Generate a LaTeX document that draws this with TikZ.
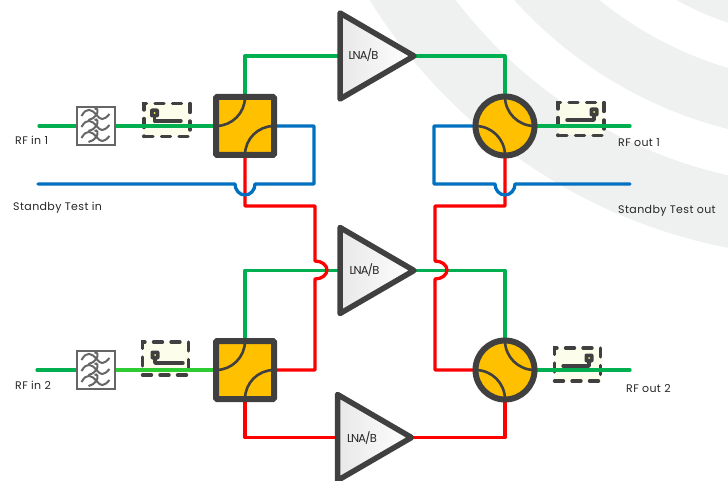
\documentclass[tikz,border=0pt]{standalone}
\usepackage{fontspec}
\setmainfont{Poppins}
\newfontfamily\portfont[LetterSpace=3.5]{Poppins}
\newfontfamily\ampfont[LetterSpace=-8]{Poppins}
\usetikzlibrary{shapes.geometric, calc}
\definecolor{bandgray}{HTML}{EFF1F1}
\definecolor{darkline}{HTML}{404040}
\definecolor{hybgold}{HTML}{FFC000}
\definecolor{wiregreen}{HTML}{00B050}
\definecolor{wirelime}{HTML}{2ECC33}
\definecolor{wireblue}{HTML}{0070C0}
\definecolor{wirered}{HTML}{FF0000}
\definecolor{isofill}{HTML}{FDFDE8}
\pgfdeclarelayer{bandlayer}
\pgfdeclarelayer{wirelayer}
\pgfsetlayers{bandlayer,wirelayer,main}

\begin{document}
\begin{tikzpicture}[
		x=1pt, y=-1pt,
		wire/.style={line width=3.3pt, line join=round, line cap=round},
		hybrid/.style={draw=darkline, line width=6pt, fill=hybgold, rounded corners=1pt, minimum size=58pt, inner sep=0pt, outer sep=0pt},
		combiner/.style={draw=darkline, line width=6pt, fill=hybgold, circle, minimum size=59pt, inner sep=0pt, outer sep=0pt},
		innerarc/.style={draw=darkline, line width=2.6pt},
		amp/.style={isosceles triangle, isosceles triangle stretches, draw=darkline, line width=5.5pt, line join=round, left color=black!9, right color=white, minimum width=86pt, minimum height=74pt, inner sep=0pt, outer sep=0pt},
		filterbox/.style={draw=black!60, line width=2pt, fill=white, minimum size=38pt, inner sep=0pt, outer sep=0pt},
		iso/.style={draw=darkline, line width=3.4pt, dash pattern=on 9pt off 8.5pt, line cap=round, fill=isofill, fill opacity=0.85, minimum width=46pt, minimum height=33pt, inner sep=0pt, outer sep=0pt},
		isotrace/.style={draw=darkline, line width=3.4pt, line cap=round, line join=round},
		wave/.style={draw=black!60, line width=2pt},
		portlabel/.style={font=\portfont\fontsize{11}{13}\selectfont, text=black!85, inner sep=0pt, anchor=west},
		amplabel/.style={font=\ampfont\fontsize{11.5}{13}\selectfont, text=black!85, inner sep=0pt}
		]
		\useasboundingbox (0,0) rectangle (728,481);
		
		% Background bands
		\begin{pgfonlayer}{bandlayer}
			\begin{scope}
				\clip (0,0) rectangle (728,481);
				\fill[bandgray, even odd rule] (833,-287) circle[radius=545] (833,-287) circle[radius=474];
				\fill[bandgray, even odd rule] (833,-287) circle[radius=429] (833,-287) circle[radius=370];
				\fill[bandgray] (833,-287) circle[radius=327];
			\end{scope}
			
			% Isolators
			\foreach \isoname/\isox/\isoy in {isoa/167/120, isob/165.5/358.5, isoc/581/119, isod/577.5/364.5}
			\node[iso] (\isoname) at (\isox,\isoy) {};
			\draw[isotrace] (154.5,113) -- (154.5,121) -- (181,121);
			\draw[isotrace] (155,355) -- (155,363) -- (183,363);
			\draw[isotrace] (594,112) -- (594,120) -- (567,120);
			\draw[isotrace] (589,358) -- (589,366) -- (563,366);
			\foreach \dotx/\doty in {154.5/113, 155/355, 594/112, 589/358} {
				\fill[darkline, rounded corners=2pt] (\dotx-4.5,\doty-4.5) rectangle (\dotx+4.5,\doty+4.5);
				\fill[yellow!60!white] (\dotx,\doty) circle[radius=1pt];
			}
		\end{pgfonlayer}
		
		% Free ends
		\coordinate (rfin1) at (39,126);
		\coordinate (rfin2) at (37,370);
		\coordinate (testin) at (38,184);
		\coordinate (rfout1) at (630,126);
		\coordinate (rfout2) at (630,370);
		\coordinate (testout) at (630,184);
		
		% Filters
		\node[filterbox] (filt1) at (95.5,126) {};
		\node[filterbox] (filt2) at (95.5,370) {};
		
		% Hybrids and combiners
		\node[hybrid] (hyb1) at (245,126) {};
		\node[hybrid] (hyb2) at (245,370) {};
		\node[combiner] (comb1) at (505,126) {};
		\node[combiner] (comb2) at (505,370) {};
		
		% Amplifiers
		\node[amp, anchor=apex] (amp1) at (414,56) {};
		\node[amp, anchor=apex] (amp2) at (414,270.5) {};
		\node[amp, anchor=apex] (amp3) at (411.5,437.5) {};
		\node[amplabel] at (363.5,55) {LNA/B};
		\node[amplabel] at (364.5,270) {LNA/B};
		\node[amplabel] at (362,438) {LNA/B};
		
		\begin{pgfonlayer}{wirelayer}
			% Green paths
			\draw[wire, wiregreen] (rfin1) -- (filt1.west);
			\draw[wire, wiregreen] (filt1.east) -- (hyb1.west);
			\draw[wire, wiregreen] (hyb1.north) |- (amp1.lower side);
			\draw[wire, wiregreen] (amp1.apex) -| (comb1.north);
			\draw[wire, wiregreen] (comb1.east) -- (rfout1);
			\draw[wire, wiregreen] (rfin2) -- (filt2.west);
			\draw[wire, wirelime] (filt2.east) -- (hyb2.west);
			\draw[wire, wiregreen] (hyb2.north) |- (amp2.lower side);
			\draw[wire, wiregreen] (amp2.apex) -| (comb2.north);
			\draw[wire, wiregreen] (comb2.east) -- (rfout2);
			
			% Red paths
			\draw[wire, wirered] (hyb1.south) -- (245,206) -- (315,206) -- (315,261)
			arc[start angle=-90, end angle=90, x radius=12, y radius=9] -- (315,370) -- (hyb2.east);
			\draw[wire, wirered] (comb1.south) -- (505,206) -- (435,206) -- (435,261)
			arc[start angle=-90, end angle=90, x radius=12, y radius=9] -- (435,370) -- (comb2.west);
			\draw[wire, wirered] (hyb2.south) |- (amp3.lower side);
			\draw[wire, wirered] (amp3.apex) -| (comb2.south);
			
			% Blue paths
			\draw[wire, wireblue] (testin) -- (235,184)
			arc[start angle=180, end angle=0, x radius=10, y radius=11] -- (314,184) -- (314,126) -- (hyb1.east);
			\draw[wire, wireblue] (comb1.west) -- (434,126) -- (434,184) -- (495,184)
			arc[start angle=180, end angle=0, x radius=10, y radius=11] -- (testout);
		\end{pgfonlayer}
		
		% Inner arcs
		\foreach \devname in {hyb1,hyb2} {
			\draw[innerarc] (\devname.north) arc[start angle=0, end angle=90, radius=29];
			\draw[innerarc] (\devname.south) arc[start angle=180, end angle=270, radius=29];
		}
		\foreach \devname in {comb1,comb2} {
			\draw[innerarc] (\devname.north) arc[start angle=180, end angle=90, radius=29.5];
			\draw[innerarc] (\devname.south) arc[start angle=0, end angle=-90, radius=29.5];
		}
		
		% Filter waves
		\foreach \filtname in {filt1,filt2}
		\foreach \wavey in {-11,0,11} {
			\draw[wave] ($(\filtname)+(-14,\wavey+1)$) .. controls ($(\filtname)+(-9,\wavey-8)$) and ($(\filtname)+(-4,\wavey-6)$) .. ($(\filtname)+(1,\wavey)$) .. controls ($(\filtname)+(5,\wavey+5)$) and ($(\filtname)+(8,\wavey+6)$) .. ($(\filtname)+(14,\wavey-1)$);
			\draw[wave] ($(\filtname)+(-1,\wavey-6)$) .. controls ($(\filtname)+(2,\wavey-8)$) and ($(\filtname)+(3,\wavey-4)$) .. ($(\filtname)+(1,\wavey)$) .. controls ($(\filtname)+(-1,\wavey+3)$) and ($(\filtname)+(-4,\wavey+4)$) .. ($(\filtname)+(-7,\wavey+5)$);
		}
		
		% Port labels
		\node[portlabel] at (15,140) {RF in 1};
		\node[portlabel] at (13,208) {Standby Test in};
		\node[portlabel] at (15,385) {RF in 2};
		\node[portlabel] at (618,143) {RF out 1};
		\node[portlabel] at (618,211) {Standby Test out};
		\node[portlabel] at (626,388) {RF out 2};
		
	\end{tikzpicture}
\end{document}
